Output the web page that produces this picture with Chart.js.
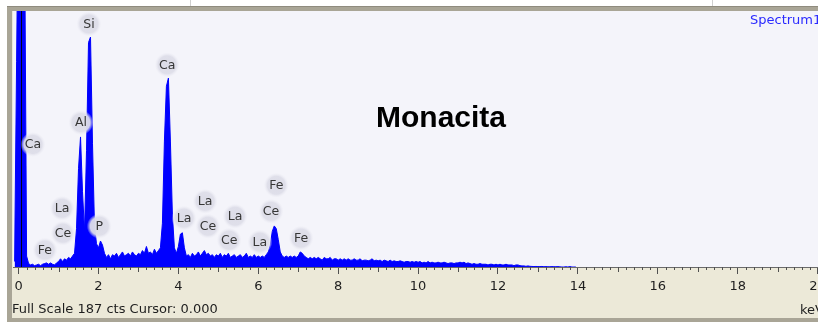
<!DOCTYPE html>
<html>
<head>
<meta charset="utf-8">
<script src="https://cdn.jsdelivr.net/npm/chart.js@4/dist/chart.umd.min.js"></script>
<style>
  html, body { margin: 0; padding: 0; background: #ffffff; }
  #wrap { width: 818px; height: 322px; }
</style>
</head>
<body>
<div id="wrap"><canvas id="c" width="818" height="322"></canvas></div>
<script>
// ---- data ----
const startKeV = -0.10;
const stepKeV = 0.05;
// counts per channel, every 0.05 keV starting at -0.10 keV
const counts = [
  4, 150, 300, 300, 300, 250, 8, 2.5, 1.5, 2,         // -0.10 .. 0.35
  1, 1.5, 2, 1, 2, 2.5, 3, 2, 3, 2,                   // 0.40 .. 0.85
  1.5, 3, 4, 6, 4, 6, 5, 7, 6, 8,                     // 0.90 .. 1.35
  10, 28, 72, 95, 55, 26, 85, 164, 168, 90,           // 1.40 .. 1.85
  30, 17, 14, 19, 16, 10, 7, 9, 6, 9,                 // 1.90 .. 2.35
  8, 10, 7, 9, 11, 8, 9, 10, 8, 11,                   // 2.40 .. 2.85
  9, 8, 10, 9, 12, 10, 15, 10, 11, 9,                 // 2.90 .. 3.35
  13, 10, 12, 14, 32, 92, 132, 138, 92, 38,           // 3.40 .. 3.85
  14, 10, 15, 24, 25, 14, 8, 9, 7, 10,                // 3.90 .. 4.35
  8, 9, 11, 8, 10, 12, 9, 10, 8, 9,                   // 4.40 .. 4.85
  7, 9, 8, 10, 7, 9, 8, 10, 7, 8,                     // 4.90 .. 5.35
  9, 7, 8, 9, 7, 8, 10, 7, 8, 7,                      // 5.40 .. 5.85
  9, 7, 8, 7, 8, 7, 9, 11, 16, 26,                    // 5.90 .. 6.35
  30, 28, 20, 11, 8, 7, 8, 7, 8, 7,                   // 6.40 .. 6.85
  8, 7, 8, 11, 10, 8, 7, 6, 7, 6,                     // 6.90 .. 7.35
  7, 6, 7, 6, 5, 7, 6, 6, 7, 5,                       // 7.40 .. 7.85
  6, 6, 5, 6, 5, 6, 5, 6, 5, 5,                       // 7.90 .. 8.35
  6, 5, 5, 6, 4.5, 5, 5, 4.5, 5, 6,                   // 8.40 .. 8.85
  4.5, 5, 4.5, 5, 4, 5, 4.5, 4, 5, 4,                 // 8.90 .. 9.35
  4.5, 4, 4, 4.5, 4, 3.5, 4, 4, 3.5, 4,               // 9.40 .. 9.85
  3.5, 4, 3.5, 4, 3, 3.5, 3, 4, 3, 3.5,               // 9.90 .. 10.35
  3, 3, 3.5, 3, 3, 3.5, 3, 2.5, 3, 3,                 // 10.40 .. 10.85
  2.5, 3, 3, 3.5, 3, 3.5, 2.5, 3, 2.5, 2,             // 10.90 .. 11.35
  2.5, 2, 2, 2.5, 2, 2, 2, 1.5, 2, 2,                 // 11.40 .. 11.85
  1.5, 2, 1.5, 2, 1.5, 1.5, 2, 1.5, 1.5, 1.5,         // 11.90 .. 12.35
  1, 1.5, 1.5, 1, 0.8, 0.8, 0.5, 0.8, 0.5, 0.4,       // 12.40 .. 12.85
  0.3, 0.4, 0.3, 0.3, 0.4, 0.2, 0.3, 0.2, 0.2, 0.3,   // 12.90 .. 13.35
  0.2, 0.2, 0.3, 0.1, 0, 0, 0.2, 0, 0.3, 0,           // 13.40 .. 13.85
  0, 0                                                // 13.90 .. 13.95
];
const xTickValues = [0, 2, 4, 6, 8, 10, 12, 14, 16, 18, 20];
const fullScale = 187;
const cursorKeV = 0.07;

// peak markers: element name, energy (keV), label height (counts)
const peakNames  = ['Si', 'Ca', 'Al', 'Ca', 'La', 'Ce', 'Fe', 'P', 'La', 'La', 'Ce', 'La', 'Ce', 'La', 'Fe', 'Ce', 'Fe'];
const peakKeV    = [1.76, 3.72, 1.56, 0.36, 1.09, 1.11, 0.66, 2.02, 4.14, 4.67, 4.74, 5.42, 5.27, 6.04, 6.45, 6.32, 7.07];
const peakLabelY = [177.5, 147.7, 105.5, 89.5, 42.9, 24.7, 12.4, 29.8, 35.7, 48.0, 29.8, 37.1, 19.6, 18.2, 59.7, 40.7, 21.1];

const titleText = 'Monacita';
const spectrumName = 'Spectrum1';
const footerText = 'Full Scale ' + fullScale + ' cts Cursor: 0.000';
const unitText = 'keV';

// ---- build points ----
const points = counts.map((c, i) => ({ x: startKeV + i * stepKeV, y: c }));

const decor = {
  id: 'decor',
  beforeDraw(chart) {
    const ctx = chart.ctx, a = chart.chartArea;
    const W = chart.width, H = chart.height;
    ctx.save();
    ctx.fillStyle = '#ffffff';
    ctx.fillRect(0, 0, W, H);
    // outer frame
    ctx.fillStyle = '#a9a596';
    ctx.fillRect(7, 6, W - 7, H - 6);
    ctx.fillStyle = '#8f8b7e';
    ctx.fillRect(7, 6, W - 7, 1);
    // beige panel
    ctx.fillStyle = '#ece9d8';
    ctx.fillRect(12, 11, W - 12, 307);
    // plot background
    ctx.fillStyle = '#f4f4fa';
    ctx.fillRect(a.left, a.top, a.right - a.left, a.bottom - a.top);
    // small lines in the top white strip
    ctx.fillStyle = '#d0d0d0';
    ctx.fillRect(190, 0, 1, 6);
    ctx.fillRect(712, 0, 1, 6);
    ctx.restore();
  },
  afterDatasetsDraw(chart) {
    const ctx = chart.ctx, a = chart.chartArea;
    const xs = chart.scales.x, ys = chart.scales.y;
    ctx.save();
    // cursor line
    const cx = Math.round(xs.getPixelForValue(cursorKeV)) + 0.5;
    ctx.strokeStyle = '#000020';
    ctx.lineWidth = 1;
    ctx.beginPath();
    ctx.moveTo(cx, a.top);
    ctx.lineTo(cx, a.bottom);
    ctx.stroke();

    // peak labels
    ctx.font = '12.5px "DejaVu Sans"';
    ctx.textAlign = 'center';
    ctx.textBaseline = 'middle';
    for (let i = 0; i < peakNames.length; i++) {
      const px = xs.getPixelForValue(peakKeV[i]);
      const py = ys.getPixelForValue(peakLabelY[i]);
      const g = ctx.createRadialGradient(px, py, 0, px, py, 12.5);
      g.addColorStop(0, 'rgba(220,220,231,1)');
      g.addColorStop(0.72, 'rgba(222,222,233,0.95)');
      g.addColorStop(1, 'rgba(236,236,244,0)');
      ctx.fillStyle = g;
      ctx.beginPath();
      ctx.arc(px, py, 12.5, 0, Math.PI * 2);
      ctx.fill();
      ctx.fillStyle = '#363636';
      ctx.fillText(peakNames[i], px, py + 0.5);
    }

    // title
    ctx.fillStyle = '#000000';
    ctx.font = 'bold 30px "Liberation Sans", Arial, sans-serif';
    ctx.textAlign = 'left';
    ctx.textBaseline = 'alphabetic';
    ctx.fillText(titleText, 376, 127);

    // spectrum name
    ctx.fillStyle = '#2a2aff';
    ctx.font = '13px "DejaVu Sans"';
    ctx.fillText(spectrumName, 750, 24);
    ctx.restore();
  },
  afterDraw(chart) {
    const ctx = chart.ctx, a = chart.chartArea;
    const xs = chart.scales.x;
    ctx.save();
    // minor ticks every 0.2 keV
    ctx.strokeStyle = '#505050';
    ctx.lineWidth = 1;
    for (let k = 0; k <= 100; k++) {
      const v = k * 0.2;
      if (k % 10 === 0) continue;
      const px = Math.round(xs.getPixelForValue(v)) + 0.5;
      const len = (k % 5 === 0) ? 5 : 3;
      ctx.beginPath();
      ctx.moveTo(px, a.bottom);
      ctx.lineTo(px, a.bottom + len);
      ctx.stroke();
    }
    // footer text
    ctx.fillStyle = '#1e1e1e';
    ctx.font = '13px "DejaVu Sans"';
    ctx.textAlign = 'left';
    ctx.textBaseline = 'alphabetic';
    ctx.fillText(footerText, 12, 313);
    ctx.fillText(unitText, 800, 314);
    ctx.restore();
  }
};

new Chart(document.getElementById('c'), {
  type: 'line',
  data: {
    datasets: [{
      data: points,
      borderColor: '#0000ff',
      backgroundColor: '#0000ff',
      fill: 'origin',
      borderWidth: 1,
      pointRadius: 0,
      tension: 0
    }]
  },
  options: {
    responsive: false,
    animation: false,
    events: [],
    layout: { padding: { left: 13, top: 11, right: 0, bottom: 22.4 } },
    plugins: { legend: { display: false }, tooltip: { enabled: false } },
    scales: {
      x: {
        type: 'linear',
        min: -0.14,
        max: 20.01,
        afterBuildTicks: s => { s.ticks = xTickValues.map(v => ({ value: v })); },
        afterFit: s => { s.paddingLeft = 0; s.paddingRight = 0; },
        ticks: {
          autoSkip: false,
          maxRotation: 0,
          padding: 5,
          color: '#1e1e1e',
          font: { family: 'DejaVu Sans', size: 13 },
          callback: v => String(v)
        },
        grid: { drawOnChartArea: false, tickLength: 7, tickColor: '#505050', tickWidth: 1 },
        border: { color: '#6a6a6a', width: 1 }
      },
      y: { display: false, min: 0, max: fullScale }
    }
  },
  plugins: [decor]
});
</script>
</body>
</html>
